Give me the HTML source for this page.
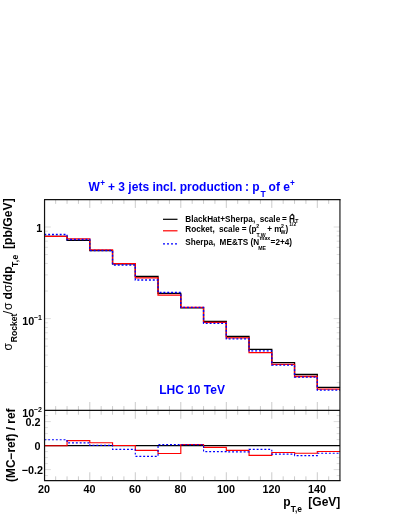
<!DOCTYPE html><html><head><meta charset="utf-8"><style>html,body{margin:0;padding:0;background:#fff}body{width:399px;height:516px;position:relative;overflow:hidden;font-family:"Liberation Sans",sans-serif}</style></head><body>
<svg width="399" height="516" viewBox="0 0 399 516" style="position:absolute;left:0;top:0;will-change:transform;opacity:0.999" font-family="Liberation Sans, sans-serif" font-weight="bold">
<path d="M55.67,199.55 v4.3 M55.67,410.4 v-4.3 M55.67,410.4 v4.3 M55.67,480.65 v-4.3 M67.05,199.55 v4.3 M67.05,410.4 v-4.3 M67.05,410.4 v4.3 M67.05,480.65 v-4.3 M78.42,199.55 v4.3 M78.42,410.4 v-4.3 M78.42,410.4 v4.3 M78.42,480.65 v-4.3 M89.80,199.55 v8.4 M89.80,410.4 v-8.4 M89.80,410.4 v8.4 M89.80,480.65 v-8.4 M101.17,199.55 v4.3 M101.17,410.4 v-4.3 M101.17,410.4 v4.3 M101.17,480.65 v-4.3 M112.55,199.55 v4.3 M112.55,410.4 v-4.3 M112.55,410.4 v4.3 M112.55,480.65 v-4.3 M123.92,199.55 v4.3 M123.92,410.4 v-4.3 M123.92,410.4 v4.3 M123.92,480.65 v-4.3 M135.30,199.55 v8.4 M135.30,410.4 v-8.4 M135.30,410.4 v8.4 M135.30,480.65 v-8.4 M146.68,199.55 v4.3 M146.68,410.4 v-4.3 M146.68,410.4 v4.3 M146.68,480.65 v-4.3 M158.05,199.55 v4.3 M158.05,410.4 v-4.3 M158.05,410.4 v4.3 M158.05,480.65 v-4.3 M169.43,199.55 v4.3 M169.43,410.4 v-4.3 M169.43,410.4 v4.3 M169.43,480.65 v-4.3 M180.80,199.55 v8.4 M180.80,410.4 v-8.4 M180.80,410.4 v8.4 M180.80,480.65 v-8.4 M192.18,199.55 v4.3 M192.18,410.4 v-4.3 M192.18,410.4 v4.3 M192.18,480.65 v-4.3 M203.55,199.55 v4.3 M203.55,410.4 v-4.3 M203.55,410.4 v4.3 M203.55,480.65 v-4.3 M214.93,199.55 v4.3 M214.93,410.4 v-4.3 M214.93,410.4 v4.3 M214.93,480.65 v-4.3 M226.30,199.55 v8.4 M226.30,410.4 v-8.4 M226.30,410.4 v8.4 M226.30,480.65 v-8.4 M237.68,199.55 v4.3 M237.68,410.4 v-4.3 M237.68,410.4 v4.3 M237.68,480.65 v-4.3 M249.05,199.55 v4.3 M249.05,410.4 v-4.3 M249.05,410.4 v4.3 M249.05,480.65 v-4.3 M260.43,199.55 v4.3 M260.43,410.4 v-4.3 M260.43,410.4 v4.3 M260.43,480.65 v-4.3 M271.80,199.55 v8.4 M271.80,410.4 v-8.4 M271.80,410.4 v8.4 M271.80,480.65 v-8.4 M283.18,199.55 v4.3 M283.18,410.4 v-4.3 M283.18,410.4 v4.3 M283.18,480.65 v-4.3 M294.55,199.55 v4.3 M294.55,410.4 v-4.3 M294.55,410.4 v4.3 M294.55,480.65 v-4.3 M305.93,199.55 v4.3 M305.93,410.4 v-4.3 M305.93,410.4 v4.3 M305.93,480.65 v-4.3 M317.30,199.55 v8.4 M317.30,410.4 v-8.4 M317.30,410.4 v8.4 M317.30,480.65 v-8.4 M328.68,199.55 v4.3 M328.68,410.4 v-4.3 M328.68,410.4 v4.3 M328.68,480.65 v-4.3" stroke="#000" stroke-opacity="0.3" stroke-width="0.7" fill="none"/>
<path d="M44.55,227.00 h6.3 M339.95,227.00 h-6.3 M44.55,199.43 h3.3 M339.95,199.43 h-3.3 M44.55,318.60 h6.3 M339.95,318.60 h-6.3 M44.55,291.03 h3.3 M339.95,291.03 h-3.3 M44.55,274.90 h3.3 M339.95,274.90 h-3.3 M44.55,263.45 h3.3 M339.95,263.45 h-3.3 M44.55,254.57 h3.3 M339.95,254.57 h-3.3 M44.55,247.32 h3.3 M339.95,247.32 h-3.3 M44.55,241.19 h3.3 M339.95,241.19 h-3.3 M44.55,235.88 h3.3 M339.95,235.88 h-3.3 M44.55,231.19 h3.3 M339.95,231.19 h-3.3 M44.55,382.63 h3.3 M339.95,382.63 h-3.3 M44.55,366.50 h3.3 M339.95,366.50 h-3.3 M44.55,355.05 h3.3 M339.95,355.05 h-3.3 M44.55,346.17 h3.3 M339.95,346.17 h-3.3 M44.55,338.92 h3.3 M339.95,338.92 h-3.3 M44.55,332.79 h3.3 M339.95,332.79 h-3.3 M44.55,327.48 h3.3 M339.95,327.48 h-3.3 M44.55,322.79 h3.3 M339.95,322.79 h-3.3 M44.55,475.60 h3.3 M339.95,475.60 h-3.3 M44.55,469.60 h6.3 M339.95,469.60 h-6.3 M44.55,463.60 h3.3 M339.95,463.60 h-3.3 M44.55,457.60 h3.3 M339.95,457.60 h-3.3 M44.55,451.60 h3.3 M339.95,451.60 h-3.3 M44.55,445.60 h6.3 M339.95,445.60 h-6.3 M44.55,439.60 h3.3 M339.95,439.60 h-3.3 M44.55,433.60 h3.3 M339.95,433.60 h-3.3 M44.55,427.60 h3.3 M339.95,427.60 h-3.3 M44.55,421.60 h6.3 M339.95,421.60 h-6.3 M44.55,415.60 h3.3 M339.95,415.60 h-3.3" stroke="#000" stroke-opacity="0.2" stroke-width="0.7" fill="none"/>
<path d="M44.30,236.30 L67.05,236.30 L67.05,240.30 L89.80,240.30 L89.80,250.60 L112.55,250.60 L112.55,263.80 L135.30,263.80 L135.30,276.50 L158.05,276.50 L158.05,293.30 L180.80,293.30 L180.80,307.80 L203.55,307.80 L203.55,321.50 L226.30,321.50 L226.30,336.50 L249.05,336.50 L249.05,349.40 L271.80,349.40 L271.80,362.60 L294.55,362.60 L294.55,374.50 L317.30,374.50 L317.30,387.40 L340.05,387.40" stroke="#000" stroke-width="1.3" fill="none"/>
<path d="M44.30,236.30 L67.05,236.30 L67.05,238.80 L89.80,238.80 L89.80,249.80 L112.55,249.80 L112.55,263.60 L135.30,263.60 L135.30,277.80 L158.05,277.80 L158.05,295.20 L180.80,295.20 L180.80,307.40 L203.55,307.40 L203.55,322.30 L226.30,322.30 L226.30,337.90 L249.05,337.90 L249.05,352.70 L271.80,352.70 L271.80,364.30 L294.55,364.30 L294.55,376.50 L317.30,376.50 L317.30,389.10 L340.05,389.10" stroke="#ff0000" stroke-width="1.3" fill="none"/>
<path d="M44.30,234.50 L67.05,234.50 L67.05,239.50 L89.80,239.50 L89.80,250.50 L112.55,250.50 L112.55,265.00 L135.30,265.00 L135.30,280.00 L158.05,280.00 L158.05,292.50 L180.80,292.50 L180.80,307.40 L203.55,307.40 L203.55,323.30 L226.30,323.30 L226.30,338.90 L249.05,338.90 L249.05,350.90 L271.80,350.90 L271.80,365.20 L294.55,365.20 L294.55,377.20 L317.30,377.20 L317.30,390.10 L340.05,390.10" stroke="#0000ff" stroke-width="1.3" stroke-dasharray="1.95 1.9" fill="none"/>
<path d="M44.55,445.6 H339.95" stroke="#000" stroke-width="1.15" fill="none"/>
<path d="M44.30,445.70 L67.05,445.70 L67.05,440.60 L89.80,440.60 L89.80,442.70 L112.55,442.70 L112.55,445.50 L135.30,445.50 L135.30,450.30 L158.05,450.30 L158.05,453.50 L180.80,453.50 L180.80,444.50 L203.55,444.50 L203.55,447.40 L226.30,447.40 L226.30,450.40 L249.05,450.40 L249.05,455.40 L271.80,455.40 L271.80,452.50 L294.55,452.50 L294.55,453.20 L317.30,453.20 L317.30,451.50 L340.05,451.50" stroke="#ff0000" stroke-width="1.15" fill="none"/>
<path d="M44.30,439.70 L67.05,439.70 L67.05,442.80 L89.80,442.80 L89.80,445.40 L112.55,445.40 L112.55,449.40 L135.30,449.40 L135.30,456.30 L158.05,456.30 L158.05,444.60 L180.80,444.60 L180.80,444.70 L203.55,444.70 L203.55,451.60 L226.30,451.60 L226.30,451.80 L249.05,451.80 L249.05,449.40 L271.80,449.40 L271.80,454.10 L294.55,454.10 L294.55,455.60 L317.30,455.60 L317.30,453.20 L340.05,453.20" stroke="#0000ff" stroke-width="1.15" stroke-dasharray="1.95 1.9" fill="none"/>
<path d="M44.55,199.55 V480.65 M44.05,199.55 H340.55 M44.55,410.4 H339.95 M44.05,480.65 H340.55" stroke="#111" stroke-width="1.2" fill="none"/>
<path d="M339.95,199.55 V480.65" stroke="#000" stroke-width="1.05" fill="none"/>
<g font-size="12" fill="#0000ff">
<text x="88.4" y="190.6">W</text>
<text x="100.3" y="186.4" font-size="8.2">+</text>
<text x="104.7" y="190.6" xml:space="preserve"> + 3 jets incl. production</text>
<text x="245.0" y="190.6" xml:space="preserve">: p</text>
<text x="260.6" y="197" font-size="8.6">T</text>
<text x="265.25" y="190.6" xml:space="preserve"> of e</text>
<text x="289.9" y="186.4" font-size="8.2">+</text>
</g>
<text x="159.2" y="394.4" font-size="12" fill="#0000ff">LHC 10 TeV</text>
<path d="M163,219.3 H177.5" stroke="#000" stroke-width="1.2"/>
<path d="M163,230.8 H177.5" stroke="#ff0000" stroke-width="1.2"/>
<path d="M163,243.8 H177.5" stroke="#0000ff" stroke-width="1.2" stroke-dasharray="2 2"/>
<g font-size="8.2" fill="#000">
<text x="185.3" y="221.6" xml:space="preserve">BlackHat+Sherpa,  scale</text>
<text x="282.0" y="221.6" xml:space="preserve">= H</text>
<text x="295.2" y="222.6" font-size="5.2">T</text>
<path d="M290.4,215.9 L292.3,214.3 L294.2,215.9" stroke="#000" stroke-width="1.1" fill="none"/>
<text x="185.3" y="231.6" xml:space="preserve">Rocket,</text>
<text x="219.0" y="231.6" xml:space="preserve">scale = (p</text>
<text x="256.2" y="228.2" font-size="5.2">2</text>
<text x="256.6" y="236.6" font-size="5.2">T,W</text>
<text x="267.3" y="231.6" xml:space="preserve">+ m</text>
<text x="281.0" y="228.2" font-size="5.2">2</text>
<text x="280.6" y="233.9" font-size="5.2">W</text>
<text x="285.4" y="231.6">)</text>
<text x="289.3" y="226.3" font-size="5">1/2</text>
<text x="185.3" y="244.7" xml:space="preserve">Sherpa,</text>
<text x="219.6" y="244.7" xml:space="preserve">ME&amp;TS (N</text>
<text x="259.8" y="240.4" font-size="5.2">max</text>
<text x="258.3" y="249.5" font-size="5.2">ME</text>
<text x="270.6" y="244.7">=2+4)</text>
</g>
<text x="43.90" y="492.5" font-size="10.8" text-anchor="middle">20</text>
<text x="89.40" y="492.5" font-size="10.8" text-anchor="middle">40</text>
<text x="134.90" y="492.5" font-size="10.8" text-anchor="middle">60</text>
<text x="180.40" y="492.5" font-size="10.8" text-anchor="middle">80</text>
<text x="225.90" y="492.5" font-size="10.8" text-anchor="middle">100</text>
<text x="271.40" y="492.5" font-size="10.8" text-anchor="middle">120</text>
<text x="316.90" y="492.5" font-size="10.8" text-anchor="middle">140</text>
<text x="42.2" y="232.0" font-size="10.8" text-anchor="end">1</text>
<text x="22.2" y="324.9" font-size="10.8">10</text><text x="33.8" y="320.1" font-size="7">−1</text>
<text x="22.2" y="416.5" font-size="10.8">10</text><text x="33.8" y="411.8" font-size="7">−2</text>
<text x="40.4" y="425.6" font-size="10.8" text-anchor="end">0.2</text>
<text x="40.4" y="449.6" font-size="10.8" text-anchor="end">0</text>
<text x="43.0" y="474.0" font-size="10.8" text-anchor="end">−0.2</text>
<text x="283.2" y="505.6" font-size="12">p</text>
<text x="290.8" y="511.6" font-size="8.4">T,e</text>
<text x="308.3" y="505.6" font-size="12">[GeV]</text>
<g transform="translate(11.5,350) rotate(-90)" font-size="12.2">
<text x="-0.4" y="0.4" font-weight="normal" font-size="12">σ</text>
<text x="7.7" y="5.2" font-size="8.6">Rocket</text>
<text x="35.8" y="0" font-weight="normal">/</text>
<text x="40" y="0.4" font-weight="normal" font-size="12">σ</text>
<text x="50.5" y="0">d</text>
<text x="58.1" y="0.4" font-weight="normal" font-size="12">σ</text>
<text x="65.6" y="0">/</text>
<text x="68.8" y="0">dp</text>
<text x="83.0" y="6.4" font-size="8.6" letter-spacing="0.4">T,e</text>
<text x="101.0" y="0">[pb/GeV]</text>
</g>
<text transform="translate(15.2,481.9) rotate(-90)" font-size="11.85">(MC−ref) / ref</text>
</svg>
</body></html>
